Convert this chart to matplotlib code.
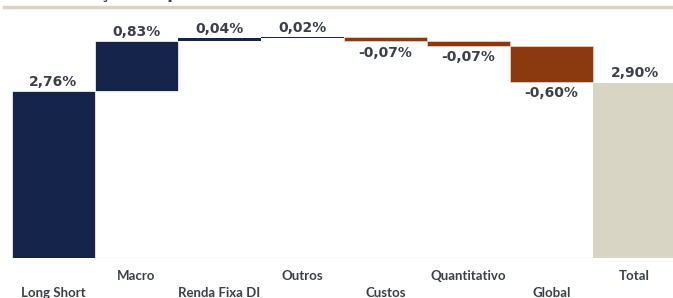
import matplotlib
matplotlib.use("Agg")
import matplotlib.pyplot as plt
import matplotlib.transforms as mtrans
import numpy as np

categories = ["Long Short", "Macro", "Renda Fixa DI", "Outros", "Custos",
              "Quantitativo", "Global", "Total"]
values = [2.76, 0.83, 0.04, 0.02, -0.07, -0.07, -0.60, 2.90]
value_labels = ["2,76%", "0,83%", "0,04%", "0,02%", "-0,07%", "-0,07%", "-0,60%", "2,90%"]

NAVY = "#14244A"
BROWN = "#8B3A10"
BEIGE = "#D9D5C5"
TXT = "#3B3F48"

fig = plt.figure(figsize=(6.73, 2.98), dpi=100)
W, H = 673, 298
ax = fig.add_axes([12 / W, (H - 258) / H, 664 / W, (258 - 20) / H])

bottoms, heights, colors, edges, lws = [], [], [], [], []
cum = 0.0
for i, v in enumerate(values):
    if i == len(values) - 1:
        bottoms.append(0.0)
        heights.append(v)
        colors.append(BEIGE)
        edges.append(BEIGE)
        lws.append(0)
    else:
        if v >= 0:
            bottoms.append(cum)
            heights.append(v)
            colors.append(NAVY)
            edges.append("#FFFFFF")
            lws.append(0.5 if v > 0.1 else 0)
        else:
            bottoms.append(cum + v)
            heights.append(-v)
            colors.append(BROWN)
            edges.append("#F0D8C8")
            lws.append(0.5)
        cum += v

x = np.arange(len(categories))
ax.bar(x, heights, bottom=bottoms, width=1.0, color=colors,
       edgecolor=edges, linewidth=lws)

ax.set_xlim(-0.5, 7.5)
ax.set_ylim(0, 238 / 60.5)
ax.axhline(0, color="#E3E3E3", lw=1.0, zorder=0)
for s in ax.spines.values():
    s.set_visible(False)
ax.set_xticks([])
ax.set_yticks([])

for i, (v, lab) in enumerate(zip(values, value_labels)):
    top = bottoms[i] + heights[i]
    if v >= 0 or i == len(values) - 1:
        ax.annotate(lab, (x[i], top), xytext=(0, 1.5), textcoords="offset points",
                    ha="center", va="bottom", fontsize=10, fontweight="bold",
                    color=TXT, family="DejaVu Sans")
    else:
        ax.annotate(lab, (x[i], bottoms[i]), xytext=(0, -3), textcoords="offset points",
                    ha="center", va="top", fontsize=10, fontweight="bold",
                    color=TXT, family="DejaVu Sans")

# category labels, staggered
tr = mtrans.blended_transform_factory(ax.transData, fig.transFigure)
for i, c in enumerate(categories):
    ypx = 293 if i % 2 == 0 else 276
    ax.text(x[i], (H - ypx) / H, c, transform=tr, ha="center", va="center",
            fontsize=9.5, fontweight="bold", color=TXT, family="Lato")

# top decorative line and clipped title
fig.add_artist(plt.Line2D([4 / W, 1.0], [(H - 6.5) / H] * 2, color=BEIGE, lw=2.5,
                          transform=fig.transFigure))
fig.text(36 / W, 1 + 1.5 / H, "Atribuição de performance", ha="left", va="baseline",
         fontsize=12, fontweight="bold", color="#3B4250", family="DejaVu Sans")

fig.savefig("out.png", dpi=100)
